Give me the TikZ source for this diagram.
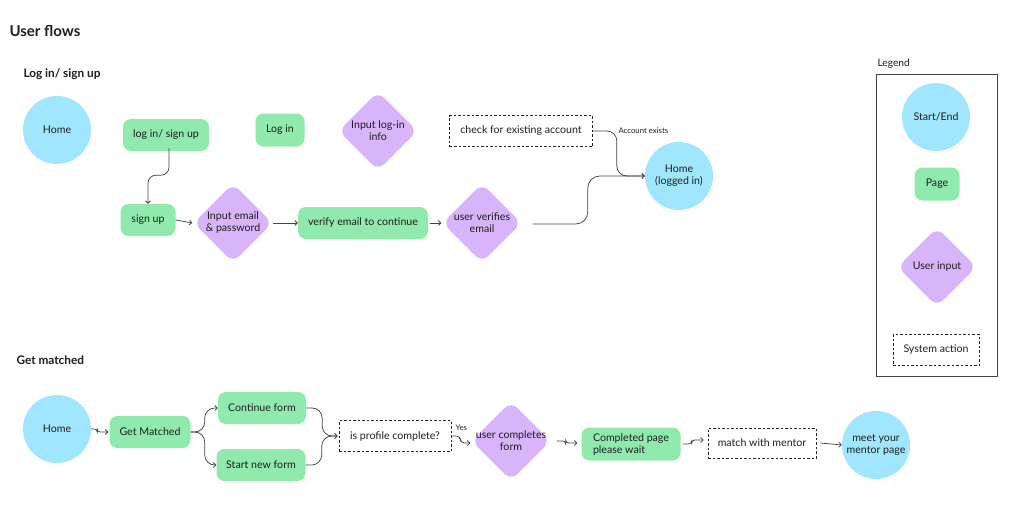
\documentclass[tikz,border=0pt]{standalone}
\usepackage{fontspec}
\setmainfont{Lato}
\usetikzlibrary{shapes.geometric,arrows.meta,calc}
\definecolor{pblue}{HTML}{A0E6FE}
\definecolor{pgreen}{HTML}{90EAAE}
\definecolor{ppurple}{HTML}{D8B4FA}
\definecolor{txt}{HTML}{1E1E1E}
\definecolor{lgray}{HTML}{444444}
\begin{document}
\begin{tikzpicture}[x=1pt,y=-1pt,
  every node/.style={text=txt, font=\fontsize{10.6}{12}\selectfont},
  startend/.style={circle, fill=pblue, minimum size=68pt, inner sep=0pt, align=center},
  page/.style={rectangle, rounded corners=8pt, fill=pgreen, minimum height=32pt, inner sep=0pt, align=center},
  inp/.style={diamond, fill=ppurple, minimum width=79pt, minimum height=79pt, inner sep=0pt, rounded corners=9pt},
  sys/.style={rectangle, draw=txt, line width=0.7pt, dash pattern=on 2.5pt off 2pt, fill=white, minimum height=31pt, inner sep=0pt},
  conn/.style={draw=lgray, line width=0.75pt, -{Straight Barb[length=2.5pt,width=5pt]}},
  heading/.style={font=\fontsize{11.8}{13}\selectfont\bfseries, anchor=west},
  tiny/.style={font=\fontsize{7.8}{8.5}\selectfont}
]
\useasboundingbox (0,0) rectangle (1024,514);
\fill[white] (0,0) rectangle (1024,514);

% headings
\node[font=\fontsize{15}{17}\selectfont\bfseries, anchor=west] (title) at (6,31) {User flows};
\node[heading] (h1) at (20,74) {Log in/ sign up};
\node[heading] (h2) at (13,360) {Get matched};

% ---- Log in / sign up ----
\node[startend] (home1) at (57,130) {Home};
\node[page, minimum width=86pt] (logsign) at (166,135) {log in/ sign up};
\node[page, minimum width=49pt, minimum height=33pt] (login) at (280,130) {Log in};
\node[inp, label={[align=center, text=txt]center:Input log-in\\info}] (inlog) at (378,131) {};
\node[sys, minimum width=143pt] (check) at (521,131) {check for existing account};
\node[startend, align=center] (home2) at (679,176) {Home\\(logged in)};
\node[page, minimum width=55pt] (signup) at (148,220) {sign up};
\node[inp, label={[align=center, text=txt]center:Input email\\\& password}] (inemail) at (233,223) {};
\node[page, minimum width=130pt] (verify) at (363,223) {verify email to continue};
\node[inp, label={[align=center, text=txt]center:user verifies\\email}] (uverif) at (482,223) {};

\draw[conn, rounded corners=8pt] ($(logsign.south)+(3,-3)$) -- ++(0,27) -| (signup.north);
\draw[conn] (signup.east) -- ($(inemail.west)+(-1,0)$);
\draw[conn] (inemail.east) -- (verify.west);
\draw[conn] ($(verify.east)+(2,0)$) -- ($(uverif.west)+(-1,0)$);
\draw[conn, rounded corners=12pt] ($(uverif.east)+(11,1)$) -- ($(home2.west)+(-57,48)$) |- (home2.west);
\draw[conn, rounded corners=10pt] (check.east) -- ($(check.east)+(24,0)$) |- (home2.west);
\node[tiny, anchor=west] (accex) at (615,131) {Account exists};

% ---- Get matched ----
\node[startend] (home3) at (57,429) {Home};
\node[page, minimum width=81pt] (gm) at (150,432) {Get Matched};
\node[page, minimum width=88pt] (cf) at (262,408) {Continue form};
\node[page, minimum width=89pt] (snf) at (261,465) {Start new form};
\node[sys, minimum width=112pt] (ipc) at (395,436) {is profile complete?};
\node[inp, label={[align=center, text=txt]center:user completes\\form}] (ucf) at (511,441) {};
\node[page, minimum width=99pt, minimum height=33pt, align=left] (cp) at (631,444) {Completed page\\please wait};
\node[sys, minimum width=108pt, minimum height=30pt] (mwm) at (762,443) {match with mentor};
\node[startend] (meet) at (876,445) {meet your\\mentor page};

\draw[conn, rounded corners=3pt] (home3.east) -- ++(6,0) |- ($(gm.west)+(-1,0)$);
\draw[conn, rounded corners=10pt] (gm.east) -- ($(gm.east)+(14,0)$) |- (cf.west);
\draw[conn, rounded corners=10pt] (gm.east) -- ($(gm.east)+(14,0)$) |- (snf.west);
\draw[conn, rounded corners=10pt] (cf.east) -- ($(cf.east)+(16,0)$) |- ($(ipc.west)+(-1,0)$);
\draw[conn, rounded corners=10pt] (snf.east) -- ($(snf.east)+(16,0)$) |- ($(ipc.west)+(-1,0)$);
\draw[conn, rounded corners=4pt] (ipc.east) -- ($(ipc.east)+(9,0)$) |- ($(ucf.west)+(-1,2)$);
\node[tiny, anchor=west] (yes) at (452,428) {Yes};
\draw[conn, rounded corners=3pt] ($(ucf.east)+(6,0)$) -- ++(9,0) |- ($(cp.west)+(-4,-1)$);
\draw[conn, rounded corners=3pt] ($(cp.east)+(2,0)$) -- ++(9,0) |- ($(mwm.west)+(-4,-3)$);
\draw[conn] ($(mwm.east)+(4,0)$) -- (meet.west);

% ---- Legend ----
\node[anchor=west, font=\fontsize{10.2}{11}\selectfont] (leglbl) at (874,64) {Legend};
\node[draw=lgray, line width=0.8pt, minimum width=121pt, minimum height=302pt, inner sep=0pt] (legend) at (936.5,225) {};
\node[startend] (lstart) at (936,117) {Start/End};
\node[page, minimum width=45pt, minimum height=33pt] (lpage) at (937,184) {Page};
\node[inp, label={[text=txt]center:User input}] (linput) at (937,267) {};
\node[sys, minimum width=86pt] (lsys) at (936,350) {System action};
\end{tikzpicture}
\end{document}
